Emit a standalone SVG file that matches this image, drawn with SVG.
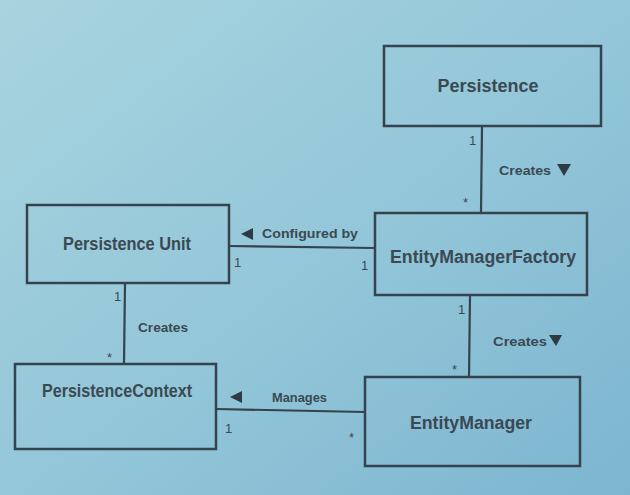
<svg xmlns="http://www.w3.org/2000/svg" width="630" height="495" viewBox="0 0 630 495">
<defs>
<linearGradient id="bg" x1="0" y1="0" x2="1" y2="1">
<stop offset="0" stop-color="#a8d4df"/>
<stop offset="0.5" stop-color="#94c7d9"/>
<stop offset="1" stop-color="#7db5d0"/>
</linearGradient>
<style>
.box{fill:none;stroke:#34434d;stroke-width:2.5}
.ln{fill:none;stroke:#34434d;stroke-width:2.2}
.nm{font-family:"Liberation Sans Narrow","Liberation Sans",sans-serif;font-weight:bold;fill:#3a4953;text-anchor:middle;font-size:18px}
.lb{font-family:"Liberation Sans Narrow","Liberation Sans",sans-serif;font-weight:bold;fill:#3a4953;font-size:13px}
.m{font-family:"Liberation Sans Narrow","Liberation Sans",sans-serif;fill:#3a4953;font-size:13px}
.tri{fill:#2e3b44}
</style>
</defs>
<rect width="630" height="495" fill="url(#bg)"/>
<g id="connectors">
<line class="ln" x1="482" y1="126" x2="481" y2="213"/>
<text class="m" x="469" y="145">1</text>
<text class="m" x="463" y="207">*</text>
<text class="lb" x="499" y="175" textLength="52" lengthAdjust="spacingAndGlyphs">Creates</text>
<polygon class="tri" points="557,164 571,164 564,176"/>

<line class="ln" x1="229" y1="246" x2="375" y2="248"/>
<polygon class="tri" points="241,234 253,228 253,240"/>
<text class="lb" x="262" y="238" textLength="96" lengthAdjust="spacingAndGlyphs">Configured by</text>
<text class="m" x="234" y="267">1</text>
<text class="m" x="361" y="270">1</text>

<line class="ln" x1="470" y1="295" x2="469" y2="377"/>
<text class="m" x="458" y="314">1</text>
<text class="m" x="452" y="374">*</text>
<text class="lb" x="493" y="346" textLength="54" lengthAdjust="spacingAndGlyphs">Creates</text>
<polygon class="tri" points="549,335 562,335 556,346"/>

<line class="ln" x1="125" y1="283" x2="124" y2="364"/>
<text class="m" x="114" y="301">1</text>
<text class="m" x="107" y="362">*</text>
<text class="lb" x="138" y="332" textLength="50" lengthAdjust="spacingAndGlyphs">Creates</text>

<line class="ln" x1="216" y1="409" x2="365" y2="412"/>
<polygon class="tri" points="230,397 242,391 242,403"/>
<text class="lb" x="272" y="402" textLength="55" lengthAdjust="spacingAndGlyphs">Manages</text>
<text class="m" x="225" y="433">1</text>
<text class="m" x="349" y="442">*</text>
</g>
<g id="persistence">
<rect class="box" x="384" y="46" width="217" height="80"/>
<text class="nm" x="488" y="92" textLength="101" lengthAdjust="spacingAndGlyphs">Persistence</text>
</g>
<g id="emf">
<rect class="box" x="375" y="213" width="212" height="82"/>
<text class="nm" x="483" y="263" textLength="186" lengthAdjust="spacingAndGlyphs">EntityManagerFactory</text>
</g>
<g id="pu">
<rect class="box" x="27" y="205" width="202" height="78"/>
<text class="nm" x="127" y="250" textLength="128" lengthAdjust="spacingAndGlyphs">Persistence Unit</text>
</g>
<g id="pc">
<rect class="box" x="15" y="364" width="201" height="85"/>
<text class="nm" x="117" y="397" textLength="150" lengthAdjust="spacingAndGlyphs">PersistenceContext</text>
</g>
<g id="em">
<rect class="box" x="365" y="377" width="215" height="89"/>
<text class="nm" x="471" y="429" textLength="122" lengthAdjust="spacingAndGlyphs">EntityManager</text>
</g>
</svg>
